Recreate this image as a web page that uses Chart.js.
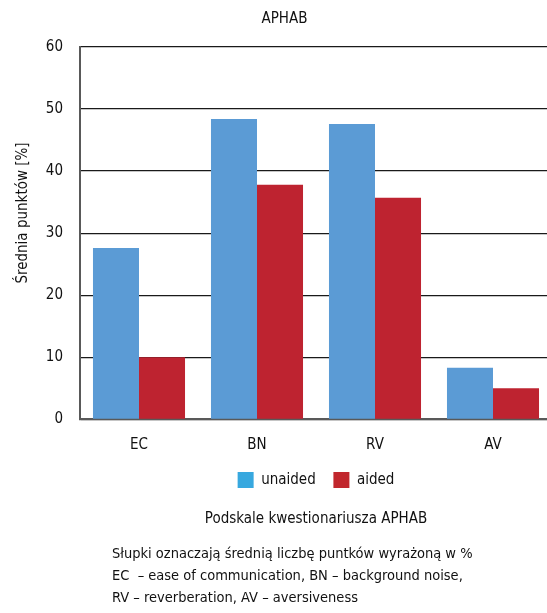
<!DOCTYPE html>
<html lang="pl">
<head>
<meta charset="utf-8">
<title>APHAB</title>
<script src="https://cdn.jsdelivr.net/npm/chart.js@4.4.1/dist/chart.umd.min.js"></script>
<style>
  html, body { margin: 0; padding: 0; background: #fff; overflow: hidden; }
  #wrap { position: relative; width: 547px; height: 613px; overflow: hidden; }
  #box { position: absolute; left: 0; top: 0; width: 569px; height: 613px; }
  #notes {
    position: absolute; left: 112px; top: 542px;
    font: 14.5px 'Liberation Sans Narrow', 'DejaVu Sans Condensed', 'Roboto Condensed', sans-serif;
    line-height: 22px; color: #111; white-space: pre;
  }
</style>
</head>
<body>
<div id="wrap">
  <div id="box"><canvas id="chart"></canvas></div>
  <div id="notes">Słupki oznaczają średnią liczbę puntków wyrażoną w %
EC  – ease of communication, BN – background noise,
RV – reverberation, AV – aversiveness</div>
</div>
<script>
// APHAB subscale scores, unaided vs aided
const categories = ['EC', 'BN', 'RV', 'AV'];
const seriesNames = ['unaided', 'aided'];
const unaided = [27.6, 48.4, 47.6, 8.3];
const aided = [10.0, 37.8, 35.7, 5.0];
const yMin = 0;
const yMax = 60;
const yStep = 10;

const barColors = ['#5b9bd5', '#be2330'];
const legendColors = ['#37a8df', '#c1272d'];
const fontFamily = "'Liberation Sans Narrow', 'DejaVu Sans Condensed', 'Roboto Condensed', sans-serif";
const yTitle = 'Średnia punktów [%]';

Chart.defaults.font.family = fontFamily;
Chart.defaults.font.size = 15;
Chart.defaults.color = '#111';

// rotated title on the left, drawn by hand so it can sit a bit above the middle
const yTitlePlugin = {
  id: 'yTitle',
  afterDraw(chart) {
    const ctx = chart.ctx;
    ctx.save();
    ctx.translate(23, 213);
    ctx.rotate(-Math.PI / 2);
    ctx.font = '15px ' + fontFamily;
    ctx.fillStyle = '#111';
    ctx.textAlign = 'center';
    ctx.textBaseline = 'middle';
    ctx.fillText(yTitle, 0, 0);
    ctx.restore();
  }
};

new Chart(document.getElementById('chart'), {
  type: 'bar',
  data: {
    labels: categories,
    datasets: [
      { label: seriesNames[0], data: unaided, backgroundColor: barColors[0] },
      { label: seriesNames[1], data: aided, backgroundColor: barColors[1] }
    ]
  },
  options: {
    responsive: true,
    maintainAspectRatio: false,
    animation: false,
    layout: { padding: { left: 17, right: 17, top: 0, bottom: 0 } },
    datasets: {
      bar: { categoryPercentage: 0.78, barPercentage: 1.0, borderWidth: 0 }
    },
    scales: {
      x: {
        grid: { display: false, drawTicks: false },
        border: { display: true, color: '#595959', width: 2 },
        ticks: { padding: 16.7, color: '#111' },
        afterFit(scale) { scale.height = 35; }
      },
      y: {
        min: yMin,
        max: yMax,
        ticks: { stepSize: yStep, padding: 17, color: '#111' },
        grid: { color: '#1a1a1a', lineWidth: 1.3, drawTicks: false },
        border: { display: true, color: '#595959', width: 2 },
        afterFit(scale) { scale.width = 63; }
      }
    },
    plugins: {
      title: {
        display: true,
        text: 'APHAB',
        color: '#111',
        font: { size: 15, weight: 'normal' },
        padding: { top: 10, bottom: 19 }
      },
      subtitle: {
        display: true,
        position: 'bottom',
        fullSize: false,
        text: 'Podskale kwestionariusza APHAB',
        color: '#111',
        font: { size: 15, weight: 'normal' },
        padding: { top: 12, bottom: 85 }
      },
      legend: {
        position: 'bottom',
        fullSize: false,
        labels: {
          boxWidth: 16,
          boxHeight: 16,
          padding: 17.7,
          color: '#111',
          generateLabels(chart) {
            const items = Chart.defaults.plugins.legend.labels.generateLabels(chart);
            items.forEach((item, i) => {
              item.fillStyle = legendColors[i];
              item.strokeStyle = legendColors[i];
              item.lineWidth = 0;
            });
            return items;
          }
        }
      },
      tooltip: { enabled: false }
    }
  },
  plugins: [yTitlePlugin]
});
</script>
</body>
</html>
